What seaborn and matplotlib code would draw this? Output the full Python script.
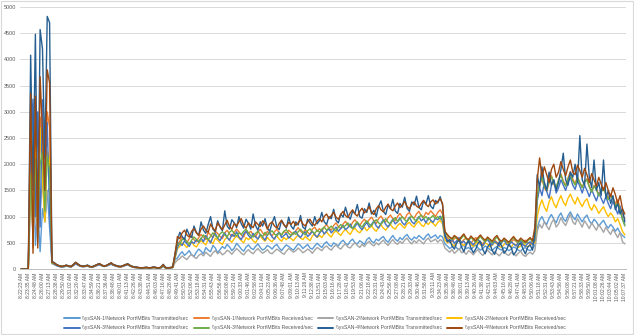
import matplotlib
matplotlib.use("Agg")
import matplotlib.pyplot as plt
import seaborn as sns
import pandas as pd
import numpy as np
from matplotlib.lines import Line2D
from matplotlib.patches import Rectangle

# Sample time labels (one label every third sample)
time_labels = [
    "8:22:23 AM", "8:23:35 AM", "8:24:48 AM", "8:26:00 AM", "8:27:13 AM", "8:28:38 AM",
    "8:29:50 AM", "8:31:02 AM", "8:32:20 AM", "8:33:47 AM", "8:34:59 AM", "8:36:21 AM",
    "8:37:36 AM", "8:38:48 AM", "8:40:01 AM", "8:41:13 AM", "8:42:26 AM", "8:43:38 AM",
    "8:44:51 AM", "8:46:03 AM", "8:47:16 AM", "8:48:28 AM", "8:49:41 AM", "8:50:53 AM",
    "8:52:06 AM", "8:53:18 AM", "8:54:31 AM", "8:55:43 AM", "8:56:56 AM", "8:58:08 AM",
    "8:59:21 AM", "9:00:33 AM", "9:01:46 AM", "9:02:58 AM", "9:04:11 AM", "9:05:23 AM",
    "9:06:36 AM", "9:07:48 AM", "9:09:01 AM", "9:10:13 AM", "9:11:26 AM", "9:12:38 AM",
    "9:13:51 AM", "9:15:03 AM", "9:16:16 AM", "9:17:28 AM", "9:18:41 AM", "9:19:53 AM",
    "9:21:06 AM", "9:22:18 AM", "9:23:31 AM", "9:24:43 AM", "9:25:56 AM", "9:27:08 AM",
    "9:28:21 AM", "9:29:33 AM", "9:30:46 AM", "9:31:58 AM", "9:33:11 AM", "9:34:23 AM",
    "9:35:36 AM", "9:36:48 AM", "9:38:01 AM", "9:39:13 AM", "9:40:26 AM", "9:41:38 AM",
    "9:42:51 AM", "9:44:03 AM", "9:45:16 AM", "9:46:28 AM", "9:47:41 AM", "9:48:53 AM",
    "9:50:06 AM", "9:51:18 AM", "9:52:31 AM", "9:53:43 AM", "9:54:56 AM", "9:56:08 AM",
    "9:57:21 AM", "9:58:33 AM", "9:59:50 AM", "10:01:08 AM", "10:02:26 AM", "10:03:44 AM",
    "10:05:02 AM", "10:07:37 AM",
]
label_step = 3

series_names = [
    r"\\ysSAN-1\Network Port\MBits Transmitted/sec",
    r"\\ysSAN-1\Network Port\MBits Received/sec",
    r"\\ysSAN-2\Network Port\MBits Transmitted/sec",
    r"\\ysSAN-2\Network Port\MBits Received/sec",
    r"\\ysSAN-3\Network Port\MBits Transmitted/sec",
    r"\\ysSAN-3\Network Port\MBits Received/sec",
    r"\\ysSAN-4\Network Port\MBits Transmitted/sec",
    r"\\ysSAN-4\Network Port\MBits Received/sec",
]
series_colors = ["#5B9BD5", "#ED7D31", "#A5A5A5", "#FFC000",
                 "#4472C4", "#70AD47", "#255E91", "#9E480E"]

san1_tx = [
    0, 0, 0, 0,
    2200, 3000, 450, 1200, 330, 1150, 900, 1500, 780, 110,
    95, 70, 55, 40, 45, 60, 50, 40, 70, 110, 80, 55, 45, 50, 60, 40, 35, 55, 70, 90,
    65, 50, 60, 80, 100, 75, 60, 45, 40, 55, 70, 85, 60, 40, 30,
    25, 20, 15, 20, 25, 15, 20, 30, 20, 15, 25, 60, 20, 15, 20, 30, 180,
    210, 280, 330, 260, 300, 350, 270, 240, 320, 380,
    340, 290, 410, 360, 330, 450, 400, 310, 370, 430,
    390, 470, 420, 350, 400, 490, 440, 380, 340, 420,
    460, 400, 370, 430, 480, 410, 360, 390, 450, 420,
    380, 440, 470, 400, 350, 410, 460, 430, 390, 360,
    420, 480, 450, 390, 430, 470, 400, 380, 440, 490,
    450, 410, 480, 520, 460, 430, 500, 470, 440, 510,
    550, 490, 460, 530, 570, 500, 480, 540, 510, 470,
    560, 600, 530, 500, 570, 540, 590, 620, 550, 510,
    580, 640, 570, 530, 600, 560, 620, 660, 590, 550,
    610, 580, 640, 600, 560, 630, 670, 590, 620, 650,
    580, 640, 610,
    480, 440, 390, 420, 460, 400, 370, 430, 450, 390,
    410, 370, 420, 460, 400, 360, 390, 440, 410, 370,
    350, 400, 430, 380, 360, 410, 390, 350, 380, 420,
    400, 360, 340, 390, 410, 370, 350, 390,
    450, 780, 930, 1000, 900, 850, 970, 1040, 950, 880,
    1000, 1070, 960, 910, 1020, 1090, 1000, 940, 1050, 970,
    900, 980, 1030, 920, 860, 950, 900, 820, 880, 930,
    840, 780, 850, 800, 720, 780, 690, 640, 600,
]

san1_rx = [
    0, 0, 0, 0,
    2800, 400, 2600, 600, 2900, 2200, 1200, 3000, 2700, 120,
    110, 80, 60, 50, 55, 70, 60, 45, 80, 120, 90, 60, 50, 55, 70, 45, 40, 60, 80, 100,
    70, 55, 65, 90, 110, 80, 65, 50, 45, 60, 80, 95, 65, 45, 35,
    30, 25, 20, 25, 30, 20, 25, 35, 25, 20, 30, 70, 25, 20, 25, 35, 250,
    480, 530, 610, 560, 500, 580, 640, 560, 520, 600,
    660, 610, 560, 700, 650, 600, 720, 680, 620, 580,
    690, 740, 670, 620, 700, 760, 710, 650, 610, 730,
    680, 720, 650, 610, 700, 760, 690, 640, 720, 670,
    630, 710, 760, 690, 650, 720, 680, 740, 700, 660,
    730, 790, 720, 680, 750, 700, 660, 760, 800, 720,
    770, 720, 800, 850, 780, 740, 830, 880, 810, 770,
    860, 910, 840, 800, 890, 940, 870, 830, 900, 950,
    880, 940, 990, 920, 870, 960, 1010, 940, 900, 980,
    1030, 960, 920, 1000, 1060, 990, 950, 1040, 1080, 1000,
    970, 1050, 1100, 1020, 990, 1080, 1040, 1110, 1060, 1000,
    1080, 1130, 1050,
    640, 600, 560, 520, 580, 610, 540, 500, 560, 590,
    530, 490, 550, 600, 560, 510, 480, 540, 580, 520,
    500, 550, 510, 470, 530, 570, 520, 480, 510, 560,
    530, 490, 470, 520, 550, 500, 480, 530,
    600, 1350, 1600, 1720, 1550, 1480, 1650, 1780, 1620, 1540,
    1700, 1820, 1680, 1600, 1740, 1860, 1720, 1630, 1760, 1650,
    1560, 1680, 1720, 1580, 1480, 1600, 1530, 1420, 1500, 1560,
    1440, 1350, 1430, 1360, 1250, 1320, 1180, 1050, 950,
]

san2_tx = [
    0, 0, 0, 0,
    1300, 700, 1400, 500, 1100, 1750, 900, 1450, 1550, 100,
    85, 60, 45, 35, 40, 55, 45, 35, 60, 100, 70, 50, 40, 45, 55, 35, 30, 50, 65, 80,
    60, 45, 55, 75, 90, 70, 55, 40, 35, 50, 65, 80, 55, 35, 25,
    20, 15, 10, 15, 20, 10, 15, 25, 15, 10, 20, 50, 15, 10, 15, 25, 120,
    170, 200, 250, 210, 180, 240, 280, 230, 200, 260,
    290, 250, 320, 280, 240, 310, 350, 290, 330, 270,
    300, 360, 330, 280, 340, 390, 350, 300, 270, 330,
    370, 320, 290, 350, 390, 340, 300, 330, 370, 310,
    290, 340, 380, 350, 310, 280, 340, 390, 360, 320,
    350, 400, 360, 310, 340, 380, 350, 300, 360, 410,
    380, 350, 410, 440, 390, 360, 420, 460, 410, 380,
    440, 480, 420, 400, 460, 500, 450, 410, 470, 430,
    490, 530, 470, 440, 500, 460, 510, 550, 490, 450,
    510, 560, 500, 470, 530, 490, 550, 590, 520, 480,
    540, 500, 560, 520, 480, 550, 590, 520, 540, 570,
    510, 560, 530,
    400, 360, 320, 370, 300, 340, 390, 310, 330, 280,
    350, 320, 270, 330, 370, 300, 260, 320, 360, 310,
    270, 330, 290, 250, 310, 350, 280, 260, 320, 290,
    250, 300, 340, 270, 240, 290, 320, 280,
    350, 720, 850, 780, 900, 820, 750, 880, 950, 800,
    860, 980, 890, 830, 940, 1050, 900, 850, 960, 880,
    800, 920, 850, 770, 880, 810, 740, 850, 780, 700,
    800, 720, 660, 760, 680, 600, 700, 520, 480,
]

san2_rx = [
    0, 0, 0, 0,
    2000, 600, 2400, 700, 2700, 1700, 900, 2250, 2100, 110,
    100, 75, 55, 45, 50, 65, 55, 45, 75, 115, 85, 60, 50, 50, 65, 45, 40, 55, 75, 95,
    70, 55, 60, 85, 105, 75, 60, 45, 45, 60, 75, 90, 60, 45, 35,
    25, 20, 15, 20, 25, 15, 20, 30, 20, 15, 25, 60, 20, 15, 20, 30, 200,
    390, 430, 500, 460, 410, 480, 520, 450, 420, 490,
    540, 500, 460, 570, 530, 480, 590, 550, 500, 470,
    560, 610, 550, 510, 580, 630, 590, 540, 500, 600,
    560, 600, 540, 500, 580, 630, 570, 530, 600, 550,
    520, 590, 630, 570, 530, 600, 560, 620, 580, 540,
    600, 650, 590, 560, 620, 580, 540, 630, 670, 600,
    640, 600, 670, 710, 650, 610, 690, 730, 680, 640,
    710, 760, 700, 660, 740, 780, 720, 690, 750, 800,
    730, 780, 820, 760, 720, 800, 840, 780, 740, 810,
    850, 790, 760, 830, 870, 820, 780, 860, 890, 830,
    800, 870, 910, 840, 810, 890, 850, 910, 870, 820,
    890, 930, 860,
    560, 500, 530, 470, 440, 510, 540, 480, 450, 500,
    530, 470, 430, 490, 520, 460, 440, 500, 470, 420,
    460, 510, 480, 430, 410, 470, 500, 450, 420, 480,
    460, 410, 440, 490, 450, 420, 460, 480,
    500, 1000, 1200, 1320, 1180, 1100, 1280, 1380, 1250, 1170,
    1300, 1400, 1280, 1210, 1350, 1430, 1320, 1240, 1370, 1270,
    1190, 1290, 1340, 1200, 1120, 1230, 1160, 1060, 1130, 1190,
    1080, 1000, 1070, 1010, 900, 960, 850, 720, 650,
]

san3_tx = [
    0, 0, 0, 0,
    2400, 3240, 1000, 3000, 800, 3230, 1500, 2800, 1100, 120,
    90, 65, 50, 40, 45, 60, 50, 40, 65, 105, 75, 55, 45, 50, 60, 40, 35, 50, 70, 85,
    65, 50, 55, 80, 95, 70, 55, 45, 40, 55, 70, 85, 55, 40, 30,
    25, 20, 15, 20, 25, 15, 20, 30, 20, 15, 25, 55, 20, 15, 20, 30, 220,
    410, 500, 450, 540, 480, 430, 520, 490, 560, 510,
    590, 520, 640, 560, 500, 610, 680, 590, 540, 630,
    690, 600, 550, 660, 620, 710, 610, 560, 670, 720,
    640, 590, 680, 620, 570, 660, 610, 550, 650, 700,
    610, 570, 660, 700, 600, 640, 680, 590, 630, 690,
    720, 640, 600, 670, 710, 620, 660, 720, 650, 610,
    680, 750, 670, 720, 770, 690, 740, 800, 720, 770,
    830, 750, 790, 860, 770, 810, 880, 800, 750, 830,
    890, 800, 850, 920, 820, 780, 870, 940, 850, 800,
    880, 950, 860, 900, 980, 880, 840, 920, 990, 900,
    860, 940, 1000, 920, 960, 880, 980, 930, 890, 970,
    940, 1010, 910,
    620, 560, 510, 570, 490, 540, 600, 500, 530, 470,
    550, 510, 460, 530, 570, 490, 450, 520, 560, 500,
    460, 530, 490, 440, 510, 550, 470, 450, 520, 480,
    440, 500, 540, 460, 430, 490, 520, 470,
    550, 1300, 1550, 1400, 1650, 1480, 1350, 1600, 1700, 1450,
    1550, 1700, 1600, 1500, 1650, 1750, 1600, 1520, 1680, 1580,
    1450, 1600, 1500, 1380, 1520, 1400, 1300, 1450, 1350, 1250,
    1380, 1250, 1150, 1300, 1180, 1050, 1200, 950, 850,
]

san3_rx = [
    0, 0, 0, 0,
    1800, 800, 2100, 900, 2000, 2230, 1100, 2150, 1900, 120,
    105, 80, 60, 50, 50, 70, 60, 45, 80, 120, 90, 60, 50, 55, 70, 45, 40, 60, 80, 100,
    70, 55, 65, 90, 110, 80, 65, 50, 45, 60, 80, 95, 65, 45, 35,
    30, 25, 20, 25, 30, 20, 25, 35, 25, 20, 30, 65, 25, 20, 25, 35, 260,
    500, 470, 560, 590, 520, 480, 550, 610, 570, 530,
    580, 650, 600, 560, 620, 690, 640, 590, 670, 710,
    650, 610, 700, 740, 680, 630, 690, 660, 720, 760,
    690, 640, 610, 680, 720, 660, 620, 700, 650, 690,
    730, 670, 630, 690, 650, 720, 750, 680, 640, 700,
    660, 710, 760, 700, 650, 730, 770, 710, 680, 740,
    700, 760, 800, 740, 780, 820, 760, 730, 800, 850,
    790, 830, 880, 810, 770, 850, 900, 840, 800, 870,
    920, 860, 820, 900, 940, 880, 850, 910, 960, 890,
    860, 930, 980, 910, 950, 1000, 940, 900, 970, 1010,
    950, 910, 990, 1030, 960, 1000, 940, 980, 1020, 960,
    1000, 950, 1010,
    700, 640, 600, 560, 620, 580, 530, 590, 640, 570,
    540, 600, 560, 510, 570, 620, 560, 520, 580, 550,
    500, 560, 610, 540, 510, 570, 530, 490, 550, 600,
    540, 500, 560, 520, 490, 540, 580, 520,
    620, 1400, 1620, 1750, 1580, 1500, 1680, 1770, 1640, 1560,
    1690, 1790, 1660, 1580, 1720, 1800, 1680, 1600, 1740, 1640,
    1550, 1660, 1700, 1560, 1470, 1580, 1510, 1400, 1470, 1530,
    1420, 1320, 1400, 1330, 1200, 1280, 1120, 950, 820,
]

san4_tx = [
    0, 0, 0, 0,
    4080, 1500, 4480, 700, 4570, 4200, 2100, 4820, 4700, 150,
    120, 85, 65, 50, 55, 75, 60, 50, 85, 130, 95, 65, 55, 60, 75, 50, 45, 65, 85, 105,
    75, 60, 70, 95, 120, 85, 70, 55, 50, 65, 85, 100, 70, 50, 40,
    35, 25, 20, 30, 35, 20, 30, 40, 30, 20, 35, 90, 30, 25, 30, 40, 300,
    540, 700, 620, 560, 760, 650, 600, 820, 700, 640,
    900, 740, 680, 850, 1000, 760, 710, 920, 800, 730,
    1110, 820, 760, 940, 880, 790, 1000, 860, 780, 950,
    870, 760, 1050, 830, 740, 900, 820, 960, 780, 720,
    880, 1000, 800, 750, 930, 850, 780, 990, 820, 760,
    900, 840, 1020, 800, 760, 950, 880, 820, 1000, 860,
    920, 1080, 900, 850, 1000, 960, 1140, 930, 880, 1050,
    990, 1180, 1020, 950, 1100, 1060, 1230, 1000, 970, 1150,
    1080, 1260, 1050, 1120, 1000, 1200, 1300, 1100, 1040, 1220,
    1150, 1330, 1110, 1060, 1250, 1180, 1370, 1160, 1100, 1280,
    1220, 1390, 1180, 1130, 1300, 1240, 1400, 1200, 1150, 1310,
    1260, 1380, 1220,
    650, 520, 560, 440, 380, 500, 560, 420, 330, 460,
    540, 400, 310, 380, 490, 530, 370, 290, 420, 480,
    350, 280, 400, 520, 440, 300, 360, 470, 410, 270,
    330, 450, 500, 380, 290, 420, 460, 360,
    700, 1800, 1550, 1950, 1650, 1500, 1850, 1600, 1700, 1500,
    1650, 1900, 2210, 1700, 1600, 1850, 1750, 2000, 1650, 2545,
    1700, 1600, 2385, 1750, 1550, 2080, 1500, 1650, 1400, 2080,
    1350, 1500, 1250, 1400, 1130, 1250, 1050, 1150, 900,
]

san4_rx = [
    0, 0, 0, 0,
    3350, 300, 3300, 400, 3670, 2600, 1500, 3800, 3550, 130,
    115, 80, 60, 50, 55, 70, 60, 45, 80, 125, 90, 60, 50, 55, 70, 45, 40, 60, 80, 100,
    75, 55, 65, 90, 115, 80, 65, 50, 45, 60, 80, 95, 65, 45, 35,
    30, 25, 20, 25, 30, 20, 25, 35, 25, 20, 30, 80, 25, 20, 25, 35, 280,
    620, 580, 690, 740, 650, 610, 720, 770, 690, 640,
    760, 820, 740, 700, 860, 780, 730, 880, 810, 750,
    840, 930, 810, 760, 870, 820, 900, 960, 830, 780,
    880, 830, 790, 900, 850, 810, 920, 870, 760, 860,
    900, 820, 780, 870, 930, 840, 800, 890, 850, 910,
    830, 880, 940, 860, 820, 900, 950, 870, 830, 910,
    960, 900, 1000, 1050, 960, 1020, 1080, 990, 950, 1040,
    1100, 1020, 980, 1070, 1130, 1050, 1010, 1100, 1160, 1070,
    1120, 1190, 1080, 1040, 1150, 1210, 1130, 1090, 1180, 1240,
    1150, 1110, 1200, 1260, 1170, 1220, 1290, 1190, 1150, 1240,
    1280, 1200, 1170, 1250, 1310, 1230, 1190, 1280, 1320, 1240,
    1290, 1340, 1250,
    720, 660, 610, 580, 640, 600, 550, 620, 670, 590,
    560, 630, 580, 540, 600, 650, 590, 550, 610, 570,
    530, 600, 640, 560, 530, 590, 550, 510, 570, 620,
    560, 530, 590, 550, 510, 560, 600, 540,
    800, 1700, 2120, 1750, 1950, 1800, 1650, 1900, 2000, 1750,
    1850, 2050, 1900, 1780, 1950, 2080, 1850, 1800, 1980, 1880,
    1750, 1920, 1800, 1650, 1820, 1700, 1580, 1750, 1620, 1500,
    1650, 1500, 1380, 1550, 1420, 1250, 1400, 1150, 1050,
]

all_series = [san1_tx, san1_rx, san2_tx, san2_rx, san3_tx, san3_rx, san4_tx, san4_rx]
n_samples = len(san1_tx)

frames = []
for name, vals in zip(series_names, all_series):
    frames.append(pd.DataFrame({"sample": np.arange(len(vals)), "mbits": vals, "counter": name}))
df = pd.concat(frames, ignore_index=True)

sns.set_theme(style="white")
plt.rcParams["font.family"] = ["Liberation Sans", "DejaVu Sans"]

fig = plt.figure(figsize=(6.34, 3.35), dpi=100)
ax = fig.add_axes([20 / 634, 1 - 269 / 335, 606 / 634, 262 / 335])

sns.lineplot(data=df, x="sample", y="mbits", hue="counter", hue_order=series_names,
             palette=dict(zip(series_names, series_colors)), linewidth=1.0,
             legend=False, ax=ax)

ax.set_xlim(-0.5, n_samples - 0.5)
ax.set_ylim(0, 5000)
ax.set_yticks(np.arange(0, 5001, 500))
ax.tick_params(axis="y", labelsize=3.9, labelcolor="#595959", length=0, pad=3)
ax.yaxis.grid(True, color="#D9D9D9", linewidth=0.7)
ax.set_axisbelow(True)

tick_pos = np.arange(len(time_labels)) * label_step
ax.set_xticks(tick_pos)
ax.set_xticklabels(time_labels, rotation=90, fontsize=3.6, color="#595959")
ax.tick_params(axis="x", length=0, pad=2.5)
ax.set_xlabel("")
ax.set_ylabel("")

for side in ["left", "right", "top"]:
    ax.spines[side].set_visible(False)
ax.spines["bottom"].set_color("#BFBFBF")
ax.spines["bottom"].set_linewidth(0.7)

handles = [Line2D([0], [0], color=c, lw=1.4) for c in series_colors]
order = [0, 4, 1, 5, 2, 6, 3, 7]
fig.legend([handles[i] for i in order], [series_names[i] for i in order],
           loc="lower center", bbox_to_anchor=(0.497, 0.0), ncol=4, frameon=False,
           fontsize=3.7, handlelength=3.0, handletextpad=0.5, columnspacing=1.0,
           labelspacing=0.9, labelcolor="#595959")

fig.patches.append(Rectangle((0.002, 0.003), 0.996, 0.994, transform=fig.transFigure,
                             fill=False, edgecolor="#D9D9D9", linewidth=0.8))

fig.savefig("out.png", dpi=100)
